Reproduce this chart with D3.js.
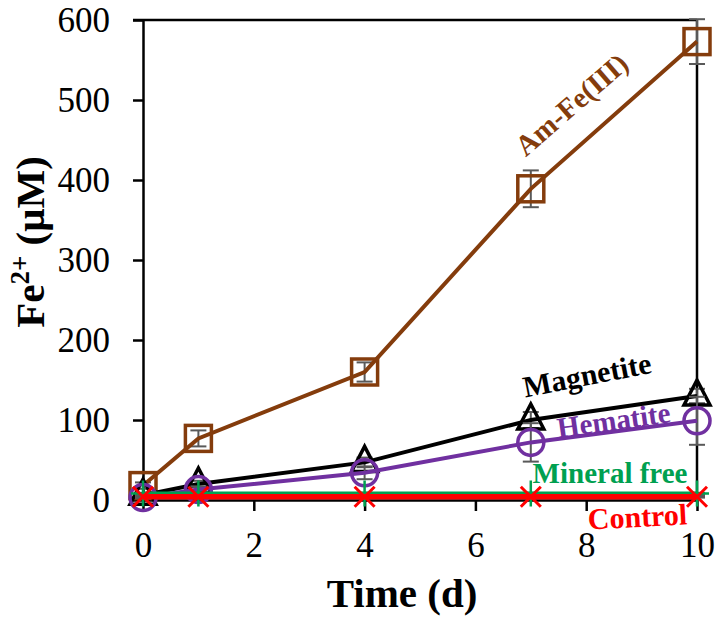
<!DOCTYPE html>
<html>
<head>
<meta charset="utf-8">
<script src="https://cdn.jsdelivr.net/npm/d3@7"></script>
<style>
  body { margin: 0; background: #fff; overflow: hidden; }
  svg { display: block; }
  text { font-family: "Liberation Serif", "Times New Roman", serif; }
</style>
</head>
<body>
<div id="chart"></div>
<script>
// Dados
const days = [0, 1, 4, 7, 10];
const amFe = [18, 77, 160, 389, 573];
const amFeErr = [4, 10, 12, 23, 28];
const magnetite = [6, 20, 47, 100, 130];
const magnetiteErr = [2, 4, 6, 10, 9];
const hematite = [3, 13, 34, 72, 99];
const hematiteErr = [1, 4, 8, 24, 30];
const mineralFree = [8, 8, 8, 8, 8];
const mineralFreeErr = [1, 1, 1, 1, 1];
const control = [4, 4, 4, 4, 4];
const controlErr = [1, 1, 1, 1, 1];
const xTicks = [0, 2, 4, 6, 8, 10];
const yTicks = [0, 100, 200, 300, 400, 500, 600];

const width = 721, height = 626;
const margin = { top: 20, right: 24, bottom: 126, left: 143 };
const innerWidth = width - margin.left - margin.right;
const innerHeight = height - margin.top - margin.bottom;

const svg = d3.select("#chart").append("svg")
  .attr("width", width)
  .attr("height", height);

const g = svg.append("g")
  .attr("transform", `translate(${margin.left},${margin.top})`);

// Escalas
const xScale = d3.scaleLinear().domain([0, 10]).range([0, innerWidth]);
const yScale = d3.scaleLinear().domain([0, 600]).range([innerHeight, 0]);

// Moldura (topo e lado direito)
g.append("line")
  .attr("x1", -10).attr("x2", innerWidth)
  .attr("y1", 0).attr("y2", 0)
  .style("stroke", "#000").style("stroke-width", 2.5);
g.append("line")
  .attr("x1", innerWidth).attr("x2", innerWidth)
  .attr("y1", 0).attr("y2", innerHeight)
  .style("stroke", "#000").style("stroke-width", 2.5);

// Eixos
const xAxis = g.append("g")
  .attr("transform", `translate(0,${innerHeight})`)
  .call(d3.axisBottom(xScale).tickValues(xTicks).tickSize(11).tickPadding(21).tickSizeOuter(0));
const yAxis = g.append("g")
  .call(d3.axisLeft(yScale).tickValues(yTicks).tickSize(10).tickPadding(23).tickSizeOuter(0));

[xAxis, yAxis].forEach(ax => {
  ax.attr("font-size", 35).attr("font-family", "Liberation Serif, serif");
  ax.select(".domain").style("stroke", "#000").style("stroke-width", 2.5);
  ax.selectAll(".tick line").style("stroke", "#000").style("stroke-width", 2.5);
  ax.selectAll(".tick text").attr("fill", "#000");
});

// Títulos dos eixos
svg.append("text")
  .attr("x", 402).attr("y", 607)
  .attr("text-anchor", "middle")
  .style("font-size", "41px").style("font-weight", "bold")
  .text("Time (d)");

const yTitle = svg.append("text")
  .attr("transform", "translate(44,242) rotate(-90)")
  .attr("text-anchor", "middle")
  .style("font-size", "41px").style("font-weight", "bold");
yTitle.append("tspan").text("Fe");
yTitle.append("tspan").attr("dy", -15).style("font-size", "27px").text("2+");
yTitle.append("tspan").attr("dy", 15).text(" (μM)");

// Séries
const series = [
  { name: "Am-Fe(III)", values: amFe, err: amFeErr, color: "#843c0c", marker: "square" },
  { name: "Magnetite", values: magnetite, err: magnetiteErr, color: "#000000", marker: "triangle" },
  { name: "Hematite", values: hematite, err: hematiteErr, color: "#7030a0", marker: "circle" },
  { name: "Mineral free", values: mineralFree, err: mineralFreeErr, color: "#00a050", marker: "plus" },
  { name: "Control", values: control, err: controlErr, color: "#ff0000", marker: "cross" },
];

const line = d3.line()
  .x((d, i) => xScale(days[i]))
  .y(d => yScale(d));

series.forEach(s => {
  const sg = g.append("g");

  // Barras de erro
  s.values.forEach((v, i) => {
    const x = xScale(days[i]);
    const y1 = yScale(v + s.err[i]);
    const y2 = yScale(v - s.err[i]);
    sg.append("line").attr("x1", x).attr("x2", x).attr("y1", y1).attr("y2", y2)
      .style("stroke", "#595959").style("stroke-width", 2);
    [y1, y2].forEach(y => {
      sg.append("line").attr("x1", x - 8).attr("x2", x + 8).attr("y1", y).attr("y2", y)
        .style("stroke", "#595959").style("stroke-width", 2);
    });
  });

  // Linha
  sg.append("path")
    .datum(s.values)
    .attr("d", line)
    .style("fill", "none")
    .style("stroke", s.color)
    .style("stroke-width", s.marker === "cross" ? 5.5 : 4);

  // Marcadores
  s.values.forEach((v, i) => {
    const x = xScale(days[i]);
    const y = yScale(v);
    if (s.marker === "square") {
      sg.append("rect").attr("x", x - 13).attr("y", y - 13).attr("width", 26).attr("height", 26)
        .style("fill", "none").style("stroke", s.color).style("stroke-width", 3.5);
    } else if (s.marker === "triangle") {
      sg.append("path").attr("d", `M${x},${y - 16}L${x + 13},${y + 9}L${x - 13},${y + 9}Z`)
        .style("fill", "none").style("stroke", s.color).style("stroke-width", 3.5);
    } else if (s.marker === "circle") {
      sg.append("circle").attr("cx", x).attr("cy", y).attr("r", 13)
        .style("fill", "none").style("stroke", s.color).style("stroke-width", 3.5);
    } else if (s.marker === "plus") {
      sg.append("path").attr("d", `M${x - 12},${y}H${x + 12}M${x},${y - 13}V${y + 13}`)
        .style("fill", "none").style("stroke", s.color).style("stroke-width", 2.5);
    } else {
      sg.append("path").attr("d", `M${x - 10},${y - 10}L${x + 10},${y + 10}M${x + 10},${y - 10}L${x - 10},${y + 10}`)
        .style("fill", "none").style("stroke", s.color).style("stroke-width", 3);
    }
  });
});

// Rótulos das séries
const labels = [
  { text: "Am-Fe(III)", x: 578, y: 112, angle: -41, color: "#843c0c", size: 29 },
  { text: "Magnetite", x: 589, y: 385, angle: -11, color: "#000000", size: 30 },
  { text: "Hematite", x: 615, y: 430, angle: -8, color: "#7030a0", size: 29 },
  { text: "Mineral free", x: 610, y: 483, angle: 0, color: "#00a050", size: 29 },
  { text: "Control", x: 638, y: 527, angle: -3, color: "#ff0000", size: 30 },
];
labels.forEach(l => {
  svg.append("text")
    .attr("transform", `translate(${l.x},${l.y}) rotate(${l.angle})`)
    .attr("text-anchor", "middle")
    .style("font-size", `${l.size}px`)
    .style("font-weight", "bold")
    .style("fill", l.color)
    .text(l.text);
});
</script>
</body>
</html>
